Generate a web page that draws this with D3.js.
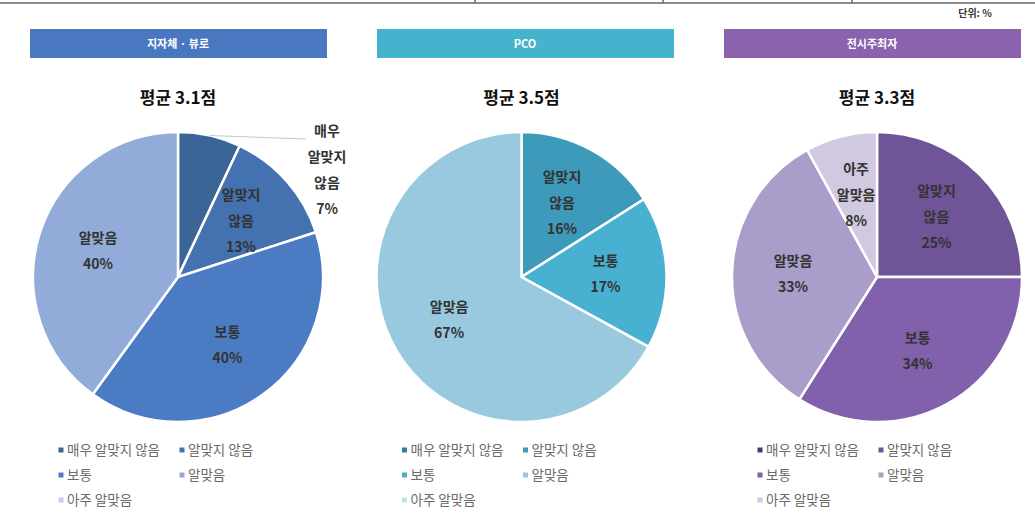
<!DOCTYPE html>
<html>
<head>
<meta charset="utf-8">
<script src="https://cdn.jsdelivr.net/npm/d3@7"></script>
<style>
  body { margin: 0; background: #fff; }
  svg { display: block; font-family: "Noto Sans CJK KR", "Noto Sans", sans-serif; }
</style>
</head>
<body>
<svg id="chart"></svg>
<script>
// categories shared by the three pies
const categories = ["매우 알맞지 않음", "알맞지 않음", "보통", "알맞음", "아주 알맞음"];

// one entry per respondent group
const groups = ["지자체 · 뷰로", "PCO", "전시주최자"];
const averages = ["평균 3.1점", "평균 3.5점", "평균 3.3점"];

// shares in %, same order as categories
const valuesBureau = [7, 13, 40, 40, 0];
const valuesPco = [0, 16, 17, 67, 0];
const valuesOrganizer = [0, 25, 34, 33, 8];
const series = [valuesBureau, valuesPco, valuesOrganizer];

const headerColors = ["#4a78c0", "#45b3cd", "#8a62ae"];
const sliceColors = [
  ["#3c6597", "#4471af", "#4b7cc3", "#93abd8", "#c3d0ea"],
  ["#2c7f9e", "#3d9abb", "#48b1d1", "#98c9df", "#c3e2ee"],
  ["#4d3676", "#6f5497", "#8161ab", "#aa9dc9", "#d0c9e0"]
];

let width = 1035;
let height = 524;

const svg = d3.select("#chart")
  .attr("width", width)
  .attr("height", height);

// remains of the table border at the top
const topLine = svg.append("g").attr("stroke", "#666").attr("stroke-width", 1.5);
topLine.append("line").attr("x1", 0).attr("x2", width).attr("y1", 3).attr("y2", 3);
[475, 663, 852].forEach(x => {
  topLine.append("line").attr("x1", x).attr("x2", x).attr("y1", 0).attr("y2", 3);
});

svg.append("text")
  .attr("x", 975).attr("y", 17)
  .attr("text-anchor", "middle")
  .attr("font-size", 10).attr("font-weight", "bold")
  .attr("fill", "#333")
  .text("단위: %");

// panel placement: headers and pies are not quite on the same centre
const xHeader = d3.scalePoint().domain(groups).range([178, 872]);
const xPie = d3.scalePoint().domain(groups).range([178, 877]);
const radius = 145;
const cy = 277;

const pie = d3.pie().sort(null).value(d => d.value);
const arc = d3.arc().innerRadius(0).outerRadius(radius);
const labelArc = d3.arc().innerRadius(radius * 0.58).outerRadius(radius * 0.58);

// which slice gets an outside callout label (by panel)
const callouts = [0, null, null];

groups.forEach((g, i) => {
  const hx = xHeader(g);
  const cx = i === 1 ? xPie(g) - 6 : xPie(g);
  const panel = svg.append("g");

  panel.append("rect")
    .attr("x", hx - 148).attr("y", 29)
    .attr("width", 297).attr("height", 29)
    .attr("fill", headerColors[i]);
  panel.append("text")
    .attr("x", hx).attr("y", 48)
    .attr("text-anchor", "middle")
    .attr("font-size", 11).attr("font-weight", "bold")
    .attr("fill", "#fff")
    .text(g);

  panel.append("text")
    .attr("x", cx).attr("y", 104)
    .attr("text-anchor", "middle")
    .attr("font-size", 17).attr("font-weight", "bold")
    .attr("fill", "#111")
    .text(averages[i]);

  const data = series[i].map((v, k) => ({ name: categories[k], value: v, k: k }));
  const arcs = pie(data).filter(d => d.data.value > 0);

  const pg = panel.append("g").attr("transform", `translate(${cx},${cy})`);

  pg.selectAll("path")
    .data(arcs)
    .enter()
    .append("path")
    .attr("d", arc)
    .attr("fill", d => sliceColors[i][d.data.k])
    .attr("stroke", "#fff")
    .attr("stroke-width", 2.5);

  arcs.forEach(d => {
    const lines = d.data.name.split(" ").concat([d.data.value + "%"]);
    let x, y0;
    if (callouts[i] === d.data.k) {
      const mid = (d.startAngle + d.endAngle) / 2;
      const ex = Math.sin(mid) * radius;
      const ey = -Math.cos(mid) * radius;
      pg.append("line")
        .attr("x1", ex).attr("y1", ey)
        .attr("x2", 128).attr("y2", -138)
        .attr("stroke", "#c8c8c8").attr("stroke-width", 1);
      x = 149;
      y0 = -105 - (lines.length - 1) * 27 / 2;
    } else {
      const c = labelArc.centroid(d);
      x = c[0];
      y0 = c[1] - (lines.length - 1) * 26 / 2;
    }
    const t = pg.append("text")
      .attr("text-anchor", "middle")
      .attr("font-size", 14).attr("font-weight", "bold")
      .attr("fill", "#333");
    lines.forEach((l, j) => {
      t.append("tspan")
        .attr("x", x)
        .attr("y", y0 + j * 26)
        .attr("dy", "0.35em")
        .text(l);
    });
  });

  // legend
  const lg = panel.append("g")
    .attr("font-size", 13.5)
    .attr("fill", "#6a6a6a");
  categories.forEach((c, k) => {
    const col = (k === 1 || k === 3) ? 1 : 0;
    const row = k < 2 ? 0 : (k < 4 ? 1 : 2);
    const lx = cx - 117 + col * 121;
    const ly = 450 + row * 25;
    lg.append("rect")
      .attr("x", lx - 2.5).attr("y", ly - 2.5)
      .attr("width", 5).attr("height", 5)
      .attr("fill", sliceColors[i][k]);
    lg.append("text")
      .attr("x", lx + 6).attr("y", ly)
      .attr("dy", "0.35em")
      .text(c);
  });
});
</script>
</body>
</html>
